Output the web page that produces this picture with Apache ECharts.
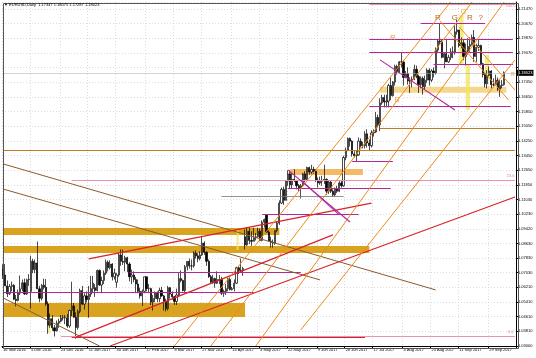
<!DOCTYPE html>
<html><head><meta charset="utf-8">
<script src="https://cdn.jsdelivr.net/npm/echarts/dist/echarts.min.js"></script>
<style>html,body{margin:0;padding:0;background:#fff}#c{width:536px;height:358px}</style>
</head><body><div id="c"></div><script>
// ---- daily bars: [day, open, high, low, close] ----
const nov2016 = [[16,1.0723,1.0749,1.0668,1.0690],[17,1.0690,1.0750,1.0630,1.0630],[18,1.0630,1.0660,1.0569,1.0587],[21,1.0587,1.0640,1.0580,1.0627],[22,1.0627,1.0654,1.0600,1.0633],[23,1.0633,1.0640,1.0552,1.0557],[24,1.0557,1.0580,1.0518,1.0550],[25,1.0550,1.0610,1.0545,1.0590],[28,1.0590,1.0687,1.0580,1.0614],[29,1.0614,1.0665,1.0600,1.0647],[30,1.0647,1.0670,1.0580,1.0586]];
const dec2016 = [[1,1.0586,1.0670,1.0580,1.0664],[2,1.0664,1.0695,1.0630,1.0666],[5,1.0600,1.0796,1.0505,1.0765],[6,1.0765,1.0778,1.0700,1.0720],[7,1.0720,1.0775,1.0700,1.0756],[8,1.0756,1.0874,1.0615,1.0614],[9,1.0614,1.0630,1.0540,1.0562],[12,1.0562,1.0640,1.0550,1.0634],[13,1.0634,1.0670,1.0610,1.0622],[14,1.0622,1.0668,1.0520,1.0530],[15,1.0530,1.0545,1.0367,1.0414],[16,1.0414,1.0478,1.0400,1.0450],[19,1.0450,1.0470,1.0383,1.0400],[20,1.0400,1.0415,1.0352,1.0383],[21,1.0383,1.0440,1.0380,1.0425],[22,1.0425,1.0450,1.0400,1.0436],[23,1.0436,1.0470,1.0430,1.0454],[26,1.0454,1.0470,1.0440,1.0456],[27,1.0456,1.0470,1.0420,1.0455],[28,1.0455,1.0475,1.0400,1.0410],[29,1.0410,1.0500,1.0400,1.0495],[30,1.0495,1.0653,1.0465,1.0520]];
const jan2017 = [[2,1.0520,1.0536,1.0455,1.0458],[3,1.0458,1.0485,1.0340,1.0402],[4,1.0402,1.0500,1.0390,1.0490],[5,1.0490,1.0615,1.0480,1.0605],[6,1.0605,1.0630,1.0525,1.0530],[9,1.0530,1.0590,1.0500,1.0575],[10,1.0575,1.0600,1.0540,1.0555],[11,1.0555,1.0630,1.0455,1.0585],[12,1.0585,1.0685,1.0570,1.0615],[13,1.0615,1.0685,1.0590,1.0645],[16,1.0620,1.0640,1.0570,1.0605],[17,1.0605,1.0720,1.0600,1.0715],[18,1.0715,1.0720,1.0630,1.0635],[19,1.0635,1.0680,1.0590,1.0660],[20,1.0660,1.0715,1.0640,1.0700],[23,1.0700,1.0775,1.0690,1.0760],[24,1.0760,1.0770,1.0710,1.0730],[25,1.0730,1.0770,1.0720,1.0750],[26,1.0750,1.0755,1.0660,1.0680],[27,1.0680,1.0725,1.0665,1.0700],[30,1.0650,1.0700,1.0620,1.0690],[31,1.0690,1.0810,1.0680,1.0800]];
const feb2017 = [[1,1.0800,1.0830,1.0740,1.0765],[2,1.0765,1.0830,1.0745,1.0760],[3,1.0760,1.0795,1.0710,1.0785],[6,1.0785,1.0790,1.0705,1.0750],[7,1.0750,1.0760,1.0655,1.0680],[8,1.0680,1.0720,1.0640,1.0690],[9,1.0690,1.0710,1.0650,1.0665],[10,1.0665,1.0680,1.0590,1.0640],[13,1.0640,1.0665,1.0590,1.0600],[14,1.0600,1.0620,1.0560,1.0575],[15,1.0575,1.0610,1.0520,1.0600],[16,1.0600,1.0680,1.0590,1.0680],[17,1.0680,1.0680,1.0600,1.0615],[20,1.0615,1.0640,1.0590,1.0615],[21,1.0615,1.0620,1.0525,1.0540],[22,1.0540,1.0580,1.0495,1.0560],[23,1.0560,1.0600,1.0540,1.0590],[24,1.0590,1.0600,1.0540,1.0560],[27,1.0560,1.0620,1.0540,1.0605],[28,1.0605,1.0625,1.0570,1.0575]];
const mar2017 = [[1,1.0575,1.0580,1.0495,1.0545],[2,1.0545,1.0560,1.0490,1.0505],[3,1.0505,1.0630,1.0495,1.0620],[6,1.0620,1.0625,1.0560,1.0585],[7,1.0585,1.0600,1.0555,1.0570],[8,1.0570,1.0575,1.0525,1.0545],[9,1.0545,1.0615,1.0525,1.0580],[10,1.0580,1.0700,1.0575,1.0670],[13,1.0670,1.0715,1.0650,1.0660],[14,1.0660,1.0665,1.0600,1.0605],[15,1.0605,1.0745,1.0595,1.0735],[16,1.0735,1.0765,1.0715,1.0765],[17,1.0765,1.0780,1.0725,1.0740],[20,1.0740,1.0775,1.0715,1.0740],[21,1.0740,1.0820,1.0730,1.0810],[22,1.0810,1.0825,1.0780,1.0795],[23,1.0795,1.0810,1.0760,1.0780],[24,1.0780,1.0820,1.0770,1.0800],[27,1.0800,1.0905,1.0795,1.0865],[28,1.0865,1.0875,1.0800,1.0815],[29,1.0815,1.0820,1.0740,1.0765],[30,1.0765,1.0775,1.0675,1.0680],[31,1.0680,1.0690,1.0640,1.0650]];
const apr2017 = [[3,1.0650,1.0690,1.0640,1.0670],[4,1.0670,1.0675,1.0620,1.0645],[5,1.0645,1.0710,1.0640,1.0665],[6,1.0665,1.0690,1.0640,1.0665],[7,1.0665,1.0680,1.0580,1.0590],[10,1.0590,1.0610,1.0570,1.0600],[11,1.0600,1.0640,1.0580,1.0615],[12,1.0615,1.0675,1.0600,1.0665],[13,1.0665,1.0680,1.0605,1.0610],[14,1.0610,1.0625,1.0605,1.0615],[17,1.0615,1.0665,1.0600,1.0645],[18,1.0645,1.0735,1.0640,1.0730],[19,1.0730,1.0740,1.0695,1.0715],[20,1.0715,1.0780,1.0705,1.0715],[21,1.0715,1.0735,1.0685,1.0725],[24,1.0900,1.0940,1.0830,1.0855],[25,1.0855,1.0950,1.0850,1.0930],[26,1.0930,1.0950,1.0860,1.0880],[27,1.0880,1.0930,1.0850,1.0875],[28,1.0875,1.0950,1.0875,1.0895]];
const may2017 = [[1,1.0895,1.0920,1.0880,1.0900],[2,1.0900,1.0950,1.0895,1.0930],[3,1.0930,1.0945,1.0875,1.0880],[4,1.0880,1.0990,1.0875,1.0980],[5,1.0980,1.1000,1.0950,1.0995],[8,1.1020,1.1025,1.0925,1.0925],[9,1.0925,1.0935,1.0875,1.0875],[10,1.0875,1.0900,1.0840,1.0870],[11,1.0870,1.0885,1.0840,1.0865],[12,1.0865,1.0935,1.0855,1.0935],[15,1.0935,1.0985,1.0925,1.0975],[16,1.0975,1.1100,1.0965,1.1085],[17,1.1085,1.1170,1.1080,1.1160],[18,1.1160,1.1175,1.1075,1.1100],[19,1.1100,1.1210,1.1100,1.1205],[22,1.1205,1.1265,1.1180,1.1245],[23,1.1245,1.1265,1.1165,1.1185],[24,1.1185,1.1250,1.1165,1.1215],[25,1.1215,1.1270,1.1200,1.1210],[26,1.1210,1.1210,1.1160,1.1180],[29,1.1180,1.1190,1.1150,1.1165],[30,1.1165,1.1190,1.1110,1.1180],[31,1.1180,1.1250,1.1175,1.1245]];
const jun2017 = [[1,1.1245,1.1260,1.1200,1.1215],[2,1.1215,1.1285,1.1205,1.1280],[5,1.1280,1.1285,1.1240,1.1255],[6,1.1255,1.1295,1.1245,1.1270],[7,1.1270,1.1285,1.1245,1.1260],[8,1.1260,1.1270,1.1200,1.1210],[9,1.1210,1.1225,1.1170,1.1195],[12,1.1195,1.1230,1.1185,1.1205],[13,1.1205,1.1235,1.1180,1.1210],[14,1.1210,1.1295,1.1190,1.1215],[15,1.1215,1.1220,1.1130,1.1150],[16,1.1150,1.1210,1.1135,1.1200],[19,1.1200,1.1210,1.1140,1.1150],[20,1.1150,1.1160,1.1120,1.1130],[21,1.1130,1.1170,1.1120,1.1165],[22,1.1165,1.1180,1.1140,1.1150],[23,1.1150,1.1205,1.1145,1.1195],[26,1.1195,1.1210,1.1170,1.1180],[27,1.1180,1.1345,1.1175,1.1335],[28,1.1335,1.1390,1.1320,1.1375],[29,1.1375,1.1445,1.1370,1.1440],[30,1.1440,1.1445,1.1395,1.1425]];
const jul2017 = [[3,1.1425,1.1430,1.1340,1.1355],[4,1.1355,1.1370,1.1335,1.1345],[5,1.1345,1.1375,1.1310,1.1350],[6,1.1350,1.1445,1.1345,1.1425],[7,1.1425,1.1440,1.1390,1.1400],[10,1.1400,1.1420,1.1385,1.1400],[11,1.1400,1.1480,1.1385,1.1465],[12,1.1465,1.1490,1.1390,1.1415],[13,1.1415,1.1435,1.1375,1.1400],[14,1.1400,1.1485,1.1390,1.1470],[17,1.1470,1.1490,1.1450,1.1475],[18,1.1475,1.1585,1.1470,1.1555],[19,1.1555,1.1570,1.1500,1.1515],[20,1.1515,1.1660,1.1480,1.1635],[21,1.1635,1.1680,1.1625,1.1665],[24,1.1665,1.1680,1.1610,1.1640],[25,1.1640,1.1680,1.1610,1.1645],[26,1.1645,1.1740,1.1610,1.1730],[27,1.1730,1.1775,1.1650,1.1675],[28,1.1675,1.1755,1.1670,1.1750],[31,1.1750,1.1845,1.1730,1.1835]];
const aug2017 = [[1,1.1835,1.1845,1.1790,1.1805],[2,1.1805,1.1865,1.1795,1.1860],[3,1.1860,1.1910,1.1830,1.1860],[4,1.1860,1.1870,1.1730,1.1775],[7,1.1775,1.1810,1.1770,1.1795],[8,1.1795,1.1830,1.1735,1.1755],[9,1.1755,1.1775,1.1690,1.1755],[10,1.1755,1.1780,1.1720,1.1765],[11,1.1765,1.1845,1.1760,1.1820],[14,1.1820,1.1840,1.1770,1.1780],[15,1.1780,1.1790,1.1690,1.1735],[16,1.1735,1.1780,1.1715,1.1770],[17,1.1770,1.1780,1.1680,1.1725],[18,1.1725,1.1785,1.1710,1.1760],[21,1.1760,1.1825,1.1745,1.1815],[22,1.1815,1.1825,1.1730,1.1760],[23,1.1760,1.1820,1.1750,1.1810],[24,1.1810,1.1830,1.1775,1.1800],[25,1.1800,1.1940,1.1790,1.1925],[28,1.1925,1.1985,1.1915,1.1975],[29,1.1975,1.2070,1.1955,1.1970],[30,1.1970,1.1980,1.1880,1.1885],[31,1.1885,1.1910,1.1825,1.1905]];
const sep2017 = [[1,1.1905,1.1980,1.1860,1.1860],[4,1.1860,1.1900,1.1855,1.1885],[5,1.1885,1.1935,1.1870,1.1915],[6,1.1915,1.1945,1.1880,1.1915],[7,1.1915,1.2060,1.1900,1.2025],[8,1.2025,1.2092,1.2010,1.2035],[11,1.2035,1.2035,1.1940,1.1950],[12,1.1950,1.1995,1.1935,1.1965],[13,1.1965,1.1980,1.1870,1.1890],[14,1.1890,1.1960,1.1840,1.1920],[15,1.1920,1.1990,1.1900,1.1945],[18,1.1945,1.1995,1.1915,1.1955],[19,1.1955,1.2010,1.1950,1.1995],[20,1.1995,1.2035,1.1860,1.1890],[21,1.1890,1.1960,1.1860,1.1940],[22,1.1940,1.1985,1.1920,1.1950],[25,1.1950,1.1955,1.1840,1.1850],[26,1.1850,1.1855,1.1775,1.1790],[27,1.1790,1.1800,1.1720,1.1740],[28,1.1740,1.1815,1.1715,1.1785],[29,1.1785,1.1835,1.1780,1.1810]];
const oct2017 = [[2,1.1810,1.1815,1.1715,1.1735],[3,1.1735,1.1770,1.1725,1.1735],[4,1.1735,1.1790,1.1730,1.1760],[5,1.1760,1.1775,1.1700,1.1710],[6,1.1710,1.1760,1.1668,1.1730],[9,1.1730,1.1760,1.1715,1.1735],[10,1.1735,1.1808,1.1730,1.1802]];
const futureDays = ['2017-10-11','2017-10-12','2017-10-13','2017-10-16','2017-10-17'];

// ---- axis labels ----
const xLabelDates = ['2016-11-16','2016-12-05','2016-12-23','2017-01-11','2017-01-30','2017-02-17','2017-03-08','2017-03-27','2017-04-14','2017-05-03','2017-05-22','2017-06-09','2017-06-28','2017-07-17','2017-08-04','2017-08-23','2017-09-11','2017-09-29'];
const xLabelTexts = ['16 Nov 2016','5 Dec 2016','23 Dec 2016','11 Jan 2017','30 Jan 2017','17 Feb 2017','8 Mar 2017','27 Mar 2017','14 Apr 2017','3 May 2017','22 May 2017','9 Jun 2017','28 Jun 2017','17 Jul 2017','4 Aug 2017','23 Aug 2017','11 Sep 2017','29 Sep 2017'];
const yTickLabels = ['1.03000','1.03810','1.04610','1.05410','1.06210','1.07030','1.07830','1.08630','1.09420','1.10230','1.11030','1.11850','1.12650','1.13450','1.14250','1.15050','1.15850','1.16650','1.17450','','1.19070','1.19870','1.20670','1.21470'];
const lastPrice = 1.18023;
const titleText = '\u25BC EURUSD,Daily  1.17347 1.18075 1.17287 1.18023';

// ---- drawn objects (date, price) ----
const goldZones = [['2016-11-16',1.0948,'2017-05-16',1.0910],['2016-11-16',1.0849,'2017-07-13',1.0811],['2016-11-16',1.0536,'2017-04-24',1.0459]];
const peachZones = [['2017-05-23',1.1272,'2017-07-10',1.1239]];
const lightZones = [['2017-07-20',1.1723,'2017-10-11',1.1690]];
const yellowBoxes = [['2017-09-11',1.2118,'2017-09-13',1.1843],['2017-09-14',1.1843,'2017-09-18',1.1596],['2017-09-27',1.1898,'2017-09-29',1.1761],['2017-04-18',1.0937,'2017-04-19',1.0827],['2016-12-15',1.0426,'2016-12-16',1.0371]];
const magentaLevels = [['2016-11-16','2017-04-28',1.0597],['2017-02-07','2017-05-30',1.0706],['2017-05-04','2017-07-06',1.1025],['2017-05-22','2017-07-27',1.1168],['2017-07-03','2017-07-28',1.1316],['2017-08-16','2017-09-27',1.2074],['2017-07-13','2017-10-16',1.1986],['2017-07-13','2017-10-16',1.1915],['2017-08-24','2017-10-16',1.1849],['2017-07-13','2017-10-13',1.1618]];
const pinkLevels = [['2016-12-23','2017-10-17',1.0355],['2016-12-30','2017-10-17',1.1212],['2017-07-13','2017-10-17',1.2178]];
const brownLevels = [['2016-11-16','2017-10-17',1.1377],['2017-07-20','2017-10-17',1.1497]];
const greyLevels = [['2017-04-07','2017-06-27',1.1124]];
const redLevels = [['2016-12-30','2017-07-11',1.0349]];
const brownLines = [['2016-11-16',1.1300,'2017-08-25',1.0608],['2016-11-16',1.1162,'2017-06-12',1.0663],['2016-11-16',1.0564,'2017-01-18',1.0300]];
const redLines = [['2017-01-11',1.0778,'2017-07-14',1.1085],['2017-01-03',1.0349,'2017-06-20',1.0910],['2017-01-25',1.0300,'2017-10-17',1.1118]];
const orangeLines = [['2017-03-08',1.0300,'2017-09-05',1.2189],['2017-03-31',1.0300,'2017-09-19',1.2189],['2017-05-01',1.0300,'2017-10-10',1.2189],['2017-05-30',1.0388,'2017-10-17',1.1871],['2017-08-29',1.2085,'2017-10-12',1.1651],['2017-09-11',1.2052,'2017-10-17',1.1706]];
const magentaLines = [['2017-07-20',1.1871,'2017-09-07',1.1596],['2017-05-22',1.1267,'2017-06-30',1.0981],['2017-05-30',1.1212,'2017-06-23',1.1020]];
const marks = [['R','2017-07-28',1.1992,'#e8a23a',8],['R','2017-08-28',1.2102,'#b8651e',8],['G','2017-09-07',1.2102,'#b8651e',8],['G','2017-09-13',1.2135,'#f0b030',7],['R','2017-09-18',1.2102,'#b8651e',8],['?','2017-09-25',1.2102,'#b8651e',8],['R','2017-10-16',1.1789,'#e8a23a',5],['B','2017-08-01',1.1651,'#e8a23a',7]];
const fibTexts = [['0.0','2017-10-13',1.0375],['23.6','2017-10-13',1.1232],['100.0','2017-10-13',1.2166]];

// ---- build ----
const months = [['2016-11',nov2016],['2016-12',dec2016],['2017-01',jan2017],['2017-02',feb2017],['2017-03',mar2017],['2017-04',apr2017],['2017-05',may2017],['2017-06',jun2017],['2017-07',jul2017],['2017-08',aug2017],['2017-09',sep2017],['2017-10',oct2017]];
const dates = [], candles = [];
months.forEach(([m, rows]) => rows.forEach(r => { dates.push(m + '-' + String(r[0]).padStart(2, '0')); candles.push([r[1], r[4], r[3], r[2]]); }));
const categories = dates.concat(futureDays);

const Y_MIN = 1.03, Y_INT = 1.03 / 128, Y_MAX = 1.2189;
const seg = (a, color, width) => [{coord: [a[0], a[1]], lineStyle: {color, width, type: 'solid'}}, {coord: [a[2], a[3]]}];
const lvl = (a, color, width) => [{coord: [a[0], a[2]], lineStyle: {color, width, type: 'solid'}}, {coord: [a[1], a[2]]}];
const box = (a, color, opacity) => [{coord: [a[0], a[1]], itemStyle: {color, opacity}}, {coord: [a[2], a[3]]}];

const lineData = [].concat(
  brownLevels.map(a => lvl(a, '#c07a2c', 1)),
  greyLevels.map(a => lvl(a, '#777777', 0.8)),
  pinkLevels.map(a => lvl(a, '#ee8fb4', 1)),
  redLevels.map(a => lvl(a, '#d8232a', 1)),
  magentaLevels.map(a => lvl(a, '#b4279a', 1.1)),
  brownLines.map(a => seg(a, '#8b5a2b', 1)),
  redLines.map(a => seg(a, '#d8232a', 1.2)),
  orangeLines.map(a => seg(a, '#f08a1c', 1)),
  magentaLines.map(a => seg(a, '#b4279a', 1.1))
);
lineData.push({yAxis: lastPrice, lineStyle: {color: '#aaaaaa', width: 0.5, type: 'solid'},
  label: {show: true, position: 'end', distance: 1, formatter: lastPrice.toFixed(5), backgroundColor: '#000', color: '#fff', fontSize: 4, fontFamily: 'Liberation Sans', padding: [1, 1, 1, 1]}});

const areaData = [].concat(
  goldZones.map(a => box(a, '#d9a21f', 1)),
  peachZones.map(a => box(a, '#f3b965', 1)),
  lightZones.map(a => box(a, '#f5d68e', 1)),
  yellowBoxes.map(a => box(a, '#f0e65a', 0.75))
);

const pointData = marks.map(m => ({coord: [m[1], m[2]], symbol: 'circle', symbolSize: 1, itemStyle: {color: 'rgba(0,0,0,0)'},
  label: {show: true, position: 'inside', formatter: m[0], color: m[3], fontSize: m[4], fontFamily: 'Liberation Sans'}}))
  .concat(fibTexts.map(t => ({coord: [t[1], t[2]], symbol: 'circle', symbolSize: 1, itemStyle: {color: 'rgba(0,0,0,0)'},
  label: {show: true, position: 'inside', formatter: t[0], color: '#e77fa6', fontSize: 4, fontFamily: 'Liberation Sans'}})));

const isLabelDate = (i, v) => xLabelDates.indexOf(v) >= 0;
const chart = echarts.init(document.getElementById('c'), null, {renderer: 'canvas'});
chart.setOption({
  animation: false,
  backgroundColor: '#ffffff',
  grid: {left: 2, right: 20, top: 2, bottom: 12},
  xAxis: {
    type: 'category', data: categories, boundaryGap: true,
    axisLine: {show: true, lineStyle: {color: '#000', width: 1}},
    axisTick: {show: true, interval: isLabelDate, length: 2, lineStyle: {color: '#000'}},
    axisLabel: {show: true, interval: isLabelDate, align: 'left', margin: 2, fontSize: 4, color: '#000', fontFamily: 'Liberation Sans',
      formatter: v => { const k = xLabelDates.indexOf(v); return k >= 0 ? xLabelTexts[k] : ''; }},
    splitLine: {show: true, interval: isLabelDate, lineStyle: {color: '#c4c4c4', width: 0.6, type: [1, 2]}}
  },
  yAxis: {
    type: 'value', position: 'right', min: Y_MIN, max: Y_MAX, interval: Y_INT, scale: true,
    axisLine: {show: true, lineStyle: {color: '#000', width: 1}},
    axisTick: {show: true, length: 2, lineStyle: {color: '#000'}},
    axisLabel: {show: true, margin: 2, fontSize: 4, color: '#000', fontFamily: 'Liberation Sans', showMaxLabel: false,
      formatter: v => { const k = Math.round((v - Y_MIN) / Y_INT); return Math.abs(v - (Y_MIN + k * Y_INT)) < 1e-7 ? (yTickLabels[k] || '') : ''; }},
    splitLine: {show: true, lineStyle: {color: '#c4c4c4', width: 0.6, type: [1, 2]}}
  },
  series: [{
    type: 'candlestick', data: candles, barWidth: 1.7, z: 3,
    itemStyle: {color: '#ffffff', color0: '#000000', borderColor: '#000000', borderColor0: '#000000', borderWidth: 0.7},
    markArea: {silent: true, data: areaData},
    markLine: {silent: true, symbol: ['none', 'none'], label: {show: false}, data: lineData, animation: false},
    markPoint: {silent: true, data: pointData, animation: false}
  }],
  graphic: [
    {type: 'rect', left: 1, top: 1, shape: {width: 515, height: 345}, style: {fill: 'none', stroke: '#555', lineWidth: 1}, silent: true, z: 100},
    {type: 'text', left: 4, top: 3, style: {text: titleText, fontSize: 4, fill: '#000', fontFamily: 'Liberation Sans'}, z: 100}
  ]
});
</script></body></html>
